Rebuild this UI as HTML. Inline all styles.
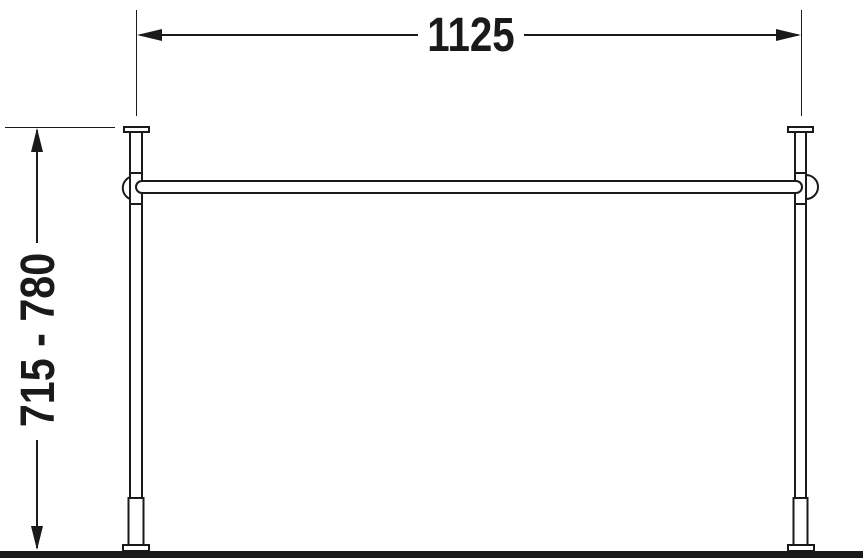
<!DOCTYPE html><html><head><style>body{margin:0;background:#fff}</style></head><body>
<svg width="863" height="558" xmlns="http://www.w3.org/2000/svg" style="display:block">
<g stroke="#1a1a1a" fill="none" stroke-width="1">
<line x1="136.5" y1="10" x2="136.5" y2="116"/>
<line x1="801.5" y1="10" x2="801.5" y2="116"/>
<line x1="140" y1="35" x2="418" y2="35" stroke-width="2"/>
<line x1="524" y1="35" x2="798" y2="35" stroke-width="2"/>
<line x1="5" y1="127.5" x2="115" y2="127.5"/>
<line x1="37" y1="130" x2="37" y2="243" stroke-width="2"/>
<line x1="37" y1="440" x2="37" y2="548" stroke-width="2"/>
</g>
<g fill="#1a1a1a">
<polygon points="137,35 162,29 162,41"/>
<polygon points="801,35 776,29 776,41"/>
<polygon points="37,128 31,152 43,152"/>
<polygon points="37,550 31,526 43,526"/>
<rect x="0" y="551" width="863" height="7"/>
</g>
<text transform="translate(471 51) scale(0.84 1)" text-anchor="middle" font-family="Liberation Sans, sans-serif" font-weight="bold" font-size="48" fill="#1a1a1a">1125</text>
<text transform="translate(54 340) rotate(-90) scale(0.86 1)" text-anchor="middle" font-family="Liberation Sans, sans-serif" font-weight="bold" font-size="48" fill="#1a1a1a">715 - 780</text>
<g stroke="#1a1a1a" fill="#fff" stroke-width="2">
<path d="M130,177 A12,12 0 0 0 130,199"/>
<rect x="130" y="132" width="12" height="366"/>
<rect x="128.5" y="498" width="15" height="47"/>
<rect x="123" y="545" width="26" height="6"/>
<rect x="124" y="127" width="25" height="5"/>
<line x1="130" y1="173" x2="142" y2="173"/>
<line x1="130" y1="204" x2="142" y2="204"/>
<path d="M806,175 A12,12 0 0 1 806,199"/>
<rect x="795" y="132" width="11" height="366"/>
<rect x="793.5" y="498" width="14" height="47"/>
<rect x="788" y="545" width="26" height="6"/>
<rect x="788" y="127" width="25" height="5"/>
<line x1="795" y1="173" x2="806" y2="173"/>
<line x1="795" y1="204" x2="806" y2="204"/>
<path d="M142,181 L796,181 A6,6 0 0 1 796,193 L142,193 A6,6 0 0 1 142,181 Z"/>
</g>
</svg>
</body></html>
